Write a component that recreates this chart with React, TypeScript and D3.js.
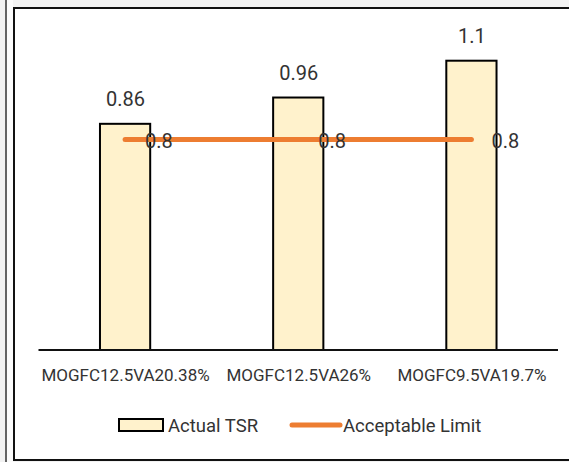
import React from "react";
import * as d3 from "d3";

// Chart data
const categories: string[] = ["MOGFC12.5VA20.38%", "MOGFC12.5VA26%", "MOGFC9.5VA19.7%"];
const actualTSR: number[] = [0.86, 0.96, 1.1];
const acceptableLimit: number[] = [0.8, 0.8, 0.8];
const seriesNames: string[] = ["Actual TSR", "Acceptable Limit"];

const W = 569;
const H = 462;
const FONT = "Roboto, 'Noto Sans', sans-serif";
const TEXT = "#333333";
const BAR_FILL = "#FFF2CC";
const LINE_COLOR = "#ED7D31";

export default function App() {
  const x = d3.scaleBand<string>().domain(categories).range([38.5, 558]).padding(0);
  const y = d3.scaleLinear().domain([0, 1.2]).range([350, 34.4]);
  const barW = x.bandwidth() * 0.29;
  const cx = (c: string) => (x(c) as number) + x.bandwidth() / 2;

  const line = d3
    .line<number>()
    .x((_, i) => cx(categories[i]))
    .y((d) => y(d));

  return (
    <svg
      width={W}
      height={H}
      style={{ position: "absolute", left: 0, top: 0, display: "block" }}
      fontFamily={FONT}
    >
      {/* page surround */}
      <rect x={0} y={0} width={W} height={H} fill="#f2f2f2" />
      <rect x={7} y={0} width={6} height={H} fill="#fbfbfb" />
      <line x1={6} x2={6} y1={0} y2={H} stroke="#333" strokeWidth={1.5} />
      {/* chart frame */}
      <rect x={14} y={8} width={W + 10} height={452} fill="#fff" stroke="#111" strokeWidth={2} />

      {/* bars */}
      {categories.map((c, i) => (
        <rect
          key={c}
          x={cx(c) - barW / 2}
          y={y(actualTSR[i])}
          width={barW}
          height={y(0) - y(actualTSR[i])}
          fill={BAR_FILL}
          stroke="#000"
          strokeWidth={2}
        />
      ))}

      {/* category axis */}
      <line x1={x.range()[0]} x2={x.range()[1]} y1={y(0)} y2={y(0)} stroke="#111" strokeWidth={2} />
      {categories.map((c) => (
        <text key={c} x={cx(c) + 0.5} y={381} textAnchor="middle" fontSize={17} fill={TEXT}>
          {c}
        </text>
      ))}

      {/* limit line */}
      <path
        d={line(acceptableLimit) || ""}
        fill="none"
        stroke={LINE_COLOR}
        strokeWidth={5}
        strokeLinecap="round"
      />

      {/* value labels */}
      {categories.map((c, i) => (
        <text key={"v" + c} x={cx(c) + 0.5} y={y(actualTSR[i]) - 18} textAnchor="middle" fontSize={20} fill={TEXT}>
          {actualTSR[i]}
        </text>
      ))}
      {categories.map((c, i) => (
        <text
          key={"l" + c}
          x={cx(c) + 20}
          y={y(acceptableLimit[i]) + 1}
          dominantBaseline="central"
          fontSize={20}
          fill={TEXT}
        >
          {acceptableLimit[i]}
        </text>
      ))}

      {/* legend */}
      <rect x={119} y={419} width={44} height={12} fill={BAR_FILL} stroke="#000" strokeWidth={2} />
      <text x={168} y={432} fontSize={18.5} fill={TEXT}>
        {seriesNames[0]}
      </text>
      <line x1={292} x2={340} y1={425} y2={425} stroke={LINE_COLOR} strokeWidth={5} strokeLinecap="round" />
      <text x={343} y={432} fontSize={18.5} fill={TEXT}>
        {seriesNames[1]}
      </text>
    </svg>
  );
}
